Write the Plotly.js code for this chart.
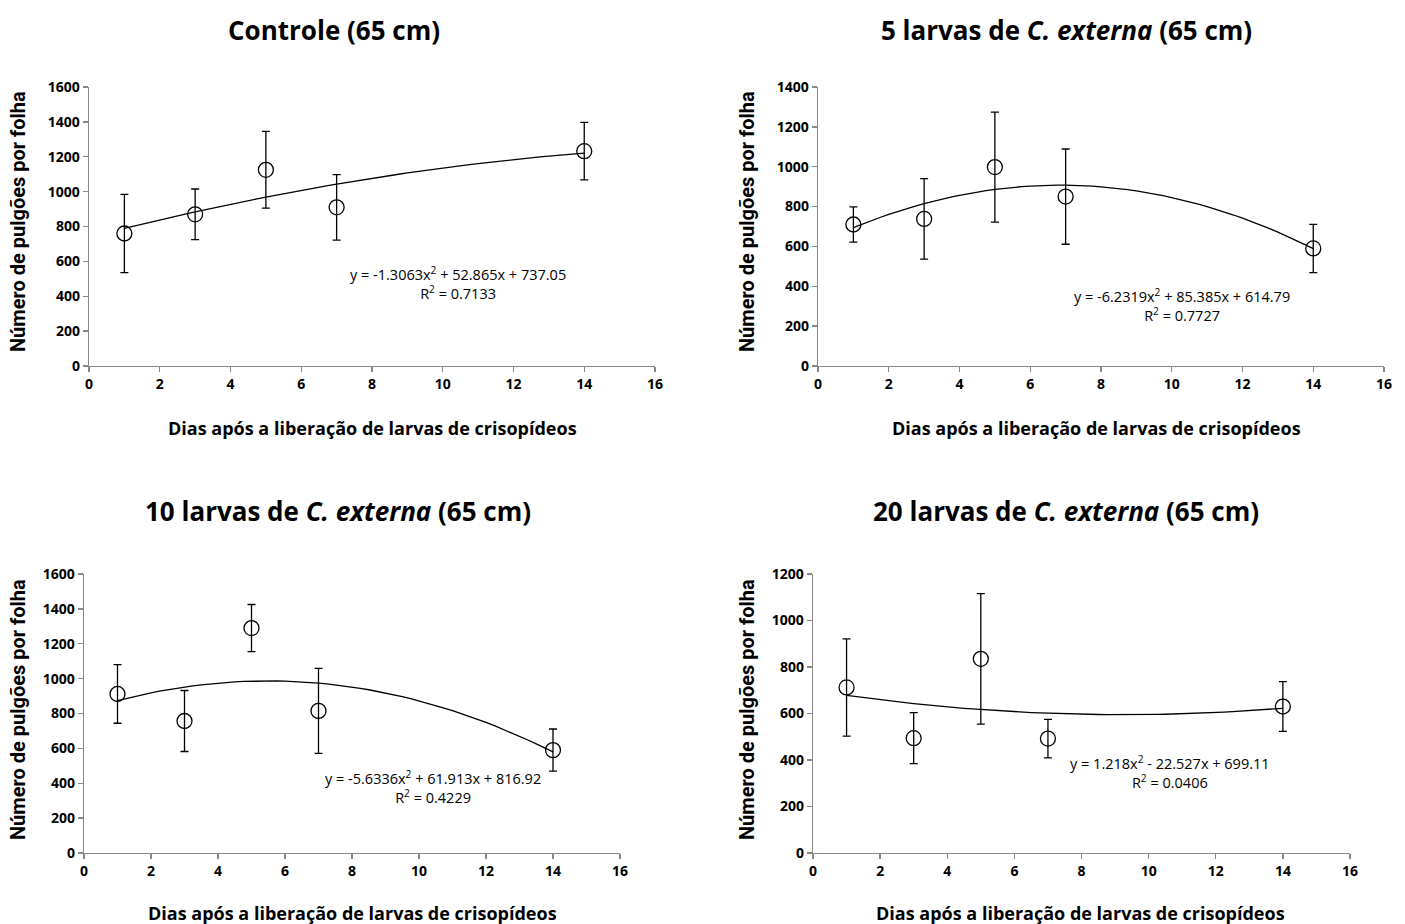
<!DOCTYPE html>
<html>
<head>
<meta charset="utf-8">
<script src="https://cdn.plot.ly/plotly-3.0.1.min.js"></script>
<style>html,body{margin:0;padding:0;background:#fff;}#chart{width:1405px;height:924px;}</style>
</head>
<body>
<div id="chart"></div>
<script>
// ---- Data ----
const days = [1, 3, 5, 7, 14];

const titles = [
  "<b>Controle (65 cm)</b>",
  "<b>5 larvas de </b><b><i>C. externa</i></b><b> (65 cm)</b>",
  "<b>10 larvas de </b><b><i>C. externa</i></b><b> (65 cm)</b>",
  "<b>20 larvas de </b><b><i>C. externa</i></b><b> (65 cm)</b>"
];

const meanControle = [760, 870, 1125, 910, 1232];
const errControle  = [224, 145, 220, 188, 165];

const mean5  = [710, 738, 998, 850, 590];
const err5   = [88, 202, 276, 239, 121];

const mean10 = [912, 757, 1290, 815, 590];
const err10  = [168, 175, 135, 244, 121];

const mean20 = [712, 494, 835, 492, 630];
const err20  = [209, 110, 281, 83, 107];

// Regression coefficients shown on the chart: a x^2 + b x + c
const coefControle = [-1.3063, 52.865, 737.05];
const coef5  = [-6.2319, 85.385, 614.79];
const coef10 = [-5.6336, 61.913, 816.92];
const coef20 = [1.218, -22.527, 699.11];

const eqTexts = [
  "y = -1.3063x<sup>2</sup> + 52.865x + 737.05<br>R<sup>2</sup> = 0.7133",
  "y = -6.2319x<sup>2</sup> + 85.385x + 614.79<br>R<sup>2</sup> = 0.7727",
  "y = -5.6336x<sup>2</sup> + 61.913x + 816.92<br>R<sup>2</sup> = 0.4229",
  "y = 1.218x<sup>2</sup> - 22.527x + 699.11<br>R<sup>2</sup> = 0.0406"
];

const yMax = [1600, 1400, 1600, 1200];
const xTitle = "<b>Dias após a liberação de larvas de crisopídeos</b>";
const yTitle = "<b>Número de pulgões por folha</b>";

// ---- Build ----
const W = 1405, H = 924;
const panels = [
  {mean: meanControle, err: errControle, coef: coefControle, px: [89, 655], py: [87, 366], eq: [458, 283]},
  {mean: mean5, err: err5, coef: coef5, px: [818, 1384], py: [87, 366], eq: [1182, 305]},
  {mean: mean10, err: err10, coef: coef10, px: [84, 620], py: [574, 853], eq: [433, 787]},
  {mean: mean20, err: err20, coef: coef20, px: [813, 1350], py: [574, 853], eq: [1170, 772]}
];

const traces = [];
const layout = {
  width: W, height: H,
  margin: {l: 0, r: 0, t: 0, b: 0},
  paper_bgcolor: "#fff", plot_bgcolor: "#fff",
  showlegend: false,
  font: {family: "Open Sans, sans-serif", color: "#000"},
  annotations: []
};

const titleCenters = [[334, 30], [1066, 30], [338, 511], [1066, 511]];
const xTitleCenters = [[372, 428], [1096, 428], [352, 913], [1080, 913]];
const yTitleCenters = [[18, 222], [747, 222], [18, 710], [747, 710]];

panels.forEach((p, i) => {
  const n = i + 1;
  const xa = n === 1 ? "x" : "x" + n;
  const ya = n === 1 ? "y" : "y" + n;
  const tx = [], ty = [];
  for (let k = 0; k <= 52; k++) {
    const x = 1 + k * 0.25;
    tx.push(x);
    ty.push(p.coef[0] * x * x + p.coef[1] * x + p.coef[2]);
  }
  traces.push({
    x: tx, y: ty, xaxis: xa, yaxis: ya, mode: "lines",
    line: {color: "#000", width: 1.3}, hoverinfo: "skip"
  });
  traces.push({
    x: days, y: p.mean, xaxis: xa, yaxis: ya, mode: "markers",
    marker: {symbol: "circle-open", size: 15, color: "#000", line: {width: 1.3, color: "#000"}},
    error_y: {type: "data", array: p.err, visible: true, color: "#000", thickness: 1.3, width: 4}
  });

  const axBase = {
    showgrid: false, zeroline: false, showline: true, linecolor: "#888", linewidth: 1.3,
    ticks: "outside", ticklen: 5, tickcolor: "#888", tickwidth: 1.3,
    tickfont: {family: "Open Sans, sans-serif", size: 14, weight: "bold", color: "#000"}
  };
  layout["xaxis" + (n === 1 ? "" : n)] = Object.assign({}, axBase, {
    domain: [p.px[0] / W, p.px[1] / W], range: [0, 16], tick0: 0, dtick: 2,
    anchor: ya, fixedrange: true
  });
  layout["yaxis" + (n === 1 ? "" : n)] = Object.assign({}, axBase, {
    domain: [1 - p.py[1] / H, 1 - p.py[0] / H], range: [0, yMax[i]], tick0: 0, dtick: 200,
    anchor: xa, fixedrange: true
  });

  // equation
  layout.annotations.push({
    xref: "paper", yref: "paper", x: p.eq[0] / W, y: 1 - p.eq[1] / H,
    xanchor: "center", yanchor: "middle", showarrow: false, align: "center",
    text: eqTexts[i], font: {family: "Open Sans, sans-serif", size: 14.5, color: "#000"}
  });
  // panel title
  layout.annotations.push({
    xref: "paper", yref: "paper", x: titleCenters[i][0] / W, y: 1 - titleCenters[i][1] / H,
    xanchor: "center", yanchor: "middle", showarrow: false,
    text: titles[i], font: {family: "Open Sans, sans-serif", size: 26, color: "#000"}
  });
  // x title
  layout.annotations.push({
    xref: "paper", yref: "paper", x: xTitleCenters[i][0] / W, y: 1 - xTitleCenters[i][1] / H,
    xanchor: "center", yanchor: "middle", showarrow: false,
    text: xTitle, font: {family: "Open Sans, sans-serif", size: 18, color: "#000"}
  });
  // y title
  layout.annotations.push({
    xref: "paper", yref: "paper", x: yTitleCenters[i][0] / W, y: 1 - yTitleCenters[i][1] / H,
    xanchor: "center", yanchor: "middle", showarrow: false, textangle: -90,
    text: yTitle, font: {family: "Roboto, Liberation Sans, sans-serif", size: 20, weight: 900, color: "#000"}
  });
});

Plotly.newPlot("chart", traces, layout, {displayModeBar: false, staticPlot: true});
</script>
</body>
</html>
